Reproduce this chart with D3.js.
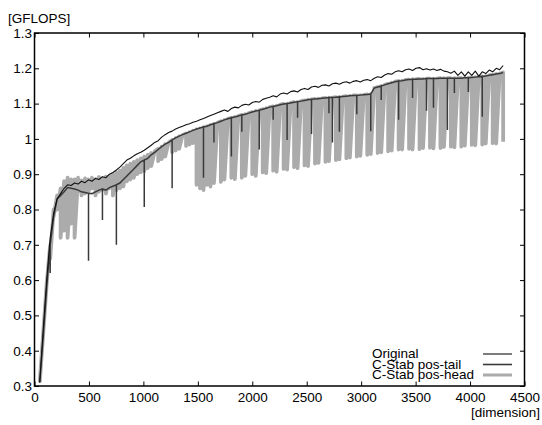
<!DOCTYPE html>
<html>
<head>
<meta charset="utf-8">
<script src="https://cdn.jsdelivr.net/npm/d3@7"></script>
<style>
body { margin: 0; background: #fff; }
text { font-family: "Liberation Sans", Arial, sans-serif; font-size: 13.5px; fill: #000; }
</style>
</head>
<body>
<svg id="chart" width="542" height="425"></svg>
<script>
// matrix dimension, one sample every 32
var dims = d3.range(48, 4305, 32);

var original = [
    0.31, 0.46, 0.60, 0.72, 0.79, 0.83, 0.845, 0.86, 0.87, 0.868,
    0.875, 0.872, 0.88, 0.876, 0.884, 0.88, 0.888, 0.885, 0.893, 0.89,
    0.90, 0.905, 0.912, 0.92, 0.93, 0.94, 0.945, 0.952, 0.958, 0.962,
    0.968, 0.975, 0.982, 0.99, 0.995, 1.005, 1.012, 1.018, 1.022, 1.028,
    1.032, 1.036, 1.04, 1.043, 1.047, 1.05, 1.054, 1.058, 1.062, 1.066,
    1.07, 1.074, 1.078, 1.082, 1.078, 1.086, 1.09, 1.088, 1.095, 1.098,
    1.096, 1.103, 1.106, 1.104, 1.112, 1.115, 1.118, 1.122, 1.119, 1.127,
    1.13, 1.127, 1.134, 1.136, 1.133, 1.14, 1.143, 1.14, 1.147, 1.149,
    1.146, 1.152, 1.153, 1.15, 1.156, 1.158, 1.155, 1.16, 1.162, 1.158,
    1.163, 1.165, 1.161, 1.166, 1.168, 1.165, 1.172, 1.176, 1.174, 1.181,
    1.185, 1.183, 1.19, 1.193, 1.19, 1.196, 1.198, 1.194, 1.2, 1.202,
    1.196, 1.199, 1.195, 1.198, 1.194, 1.197, 1.192, 1.19, 1.186, 1.192,
    1.18, 1.19, 1.178, 1.19, 1.18, 1.192, 1.178, 1.19, 1.185, 1.195,
    1.19, 1.2, 1.196, 1.208
];

var posTail = [
    0.31, 0.44, 0.58, 0.70, 0.78, 0.83, 0.84, 0.85, 0.862, 0.86,
    0.858, 0.855, 0.85, 0.848, 0.846, 0.845, 0.85, 0.855, 0.858, 0.855,
    0.862, 0.866, 0.87, 0.875, 0.885, 0.895, 0.905, 0.915, 0.925, 0.935,
    0.94, 0.945, 0.955, 0.962, 0.97, 0.978, 0.985, 0.99, 0.997, 1.003,
    1.008, 1.012, 1.016, 1.02, 1.024, 1.028, 1.031, 1.034, 1.036, 1.04,
    1.043, 1.046, 1.05, 1.054, 1.057, 1.06, 1.062, 1.065, 1.068, 1.07,
    1.073, 1.076, 1.079, 1.081, 1.084, 1.087, 1.09, 1.092, 1.094, 1.097,
    1.099, 1.1, 1.102, 1.104, 1.105, 1.107, 1.109, 1.111, 1.112, 1.113,
    1.114, 1.115, 1.116, 1.117, 1.117, 1.118, 1.119, 1.12, 1.121, 1.122,
    1.123, 1.123, 1.124, 1.125, 1.126, 1.127, 1.144, 1.147, 1.15, 1.153,
    1.156, 1.159, 1.162, 1.164, 1.165, 1.167, 1.168, 1.169, 1.169, 1.17,
    1.17, 1.171, 1.171, 1.171, 1.171, 1.172, 1.172, 1.172, 1.172, 1.172,
    1.172, 1.172, 1.173, 1.173, 1.174, 1.175, 1.176, 1.177, 1.178, 1.18,
    1.182, 1.184, 1.185, 1.188
];

// single-sample drops of pos-tail: [dimension, GFLOPS]
var tailDips = [
    [144, 0.62], [496, 0.655], [624, 0.77], [752, 0.70], [1008, 0.807], [1264, 0.86],
    [1552, 0.89], [1648, 0.99], [1808, 0.95], [1904, 1.02], [2064, 0.97], [2192, 1.054],
    [2320, 0.997], [2416, 1.06], [2544, 1.014], [2704, 1.073], [2736, 0.99], [2800, 1.02],
    [2960, 1.07], [3088, 1.022], [3184, 1.11], [3344, 1.054], [3472, 1.116], [3600, 1.08],
    [3664, 1.088], [3792, 1.025], [3856, 1.13], [3984, 1.133], [4112, 1.063]
];

// pos-head jumps between a high and a low value inside each sample
var posHeadHigh = [
    0.31, 0.45, 0.59, 0.70, 0.80, 0.84, 0.86, 0.88, 0.89, 0.885,
    0.885, 0.89, 0.882, 0.888, 0.885, 0.89, 0.886, 0.892, 0.888, 0.893,
    0.895, 0.9, 0.905, 0.91, 0.918, 0.925, 0.93, 0.935, 0.94, 0.945,
    0.95, 0.955, 0.96, 0.965, 0.972, 0.978, 0.985, 0.99, 0.997, 1.002,
    1.007, 1.011, 1.015, 1.019, 1.023, 1.027, 1.03, 1.033, 1.036, 1.04,
    1.043, 1.046, 1.05, 1.054, 1.057, 1.06, 1.062, 1.065, 1.068, 1.07,
    1.073, 1.076, 1.079, 1.081, 1.084, 1.087, 1.09, 1.092, 1.094, 1.097,
    1.099, 1.1, 1.102, 1.104, 1.105, 1.107, 1.109, 1.111, 1.112, 1.113,
    1.114, 1.115, 1.116, 1.117, 1.117, 1.118, 1.119, 1.12, 1.121, 1.122,
    1.123, 1.123, 1.124, 1.125, 1.126, 1.127, 1.144, 1.147, 1.15, 1.153,
    1.156, 1.159, 1.162, 1.164, 1.165, 1.167, 1.168, 1.169, 1.169, 1.17,
    1.17, 1.171, 1.171, 1.171, 1.171, 1.172, 1.172, 1.172, 1.172, 1.172,
    1.172, 1.172, 1.173, 1.173, 1.174, 1.175, 1.176, 1.177, 1.178, 1.18,
    1.182, 1.184, 1.185, 1.188
];

var posHeadLow = [
    0.31, 0.45, 0.59, 0.66, 0.78, 0.80, 0.72, 0.74, 0.72, 0.76,
    0.72, 0.85, 0.84, 0.845, 0.85, 0.86, 0.84, 0.85, 0.855, 0.845,
    0.86, 0.84, 0.855, 0.86, 0.865, 0.88, 0.885, 0.89, 0.90, 0.905,
    0.909, 0.917, 0.923, 0.929, 0.937, 0.943, 0.95, 0.955, 0.962, 0.967,
    0.972, 0.976, 0.98, 0.984, 0.988, 0.87, 0.86, 0.855, 0.87, 0.865,
    0.875, 0.88, 0.878, 0.885, 0.882, 0.89, 0.886, 0.892, 0.89, 0.895,
    0.898, 0.9, 0.895, 0.902, 0.905, 0.903, 0.908, 0.91, 0.907, 0.912,
    0.915, 0.913, 0.918, 0.92, 0.917, 0.922, 0.925, 0.923, 0.928, 0.93,
    0.932, 0.93, 0.935, 0.937, 0.935, 0.94, 0.942, 0.94, 0.945, 0.947,
    0.945, 0.95, 0.952, 0.95, 0.955, 0.957, 0.955, 0.96, 0.962, 0.96,
    0.965, 0.967, 0.965, 0.97, 0.97, 0.968, 0.972, 0.97, 0.973, 0.971,
    0.974, 0.972, 0.975, 0.973, 0.976, 0.974, 0.977, 0.975, 0.978, 0.976,
    0.979, 0.978, 0.981, 0.98, 0.983, 0.982, 0.985, 0.984, 0.987, 0.986,
    0.988, 0.987, 0.99, 0.992
];

// dimensions where pos-head does not drop (thin white gaps in the band)
var headGaps = [1104, 1232, 1360, 1680, 1776, 1872, 1968, 2064, 2160, 2256, 2352, 2448,
    2544, 2640, 2736, 2832, 2928, 3024, 3120, 3216, 3312, 3408, 3504, 3600, 3696, 3792,
    3888, 3984, 4080, 4176, 4272];

var xTicks = [0, 500, 1000, 1500, 2000, 2500, 3000, 3500, 4000, 4500];
var yTicks = [0.3, 0.4, 0.5, 0.6, 0.7, 0.8, 0.9, 1.0, 1.1, 1.2, 1.3];
var seriesNames = ["Original", "C-Stab pos-tail", "C-Stab pos-head"];

var svg = d3.select("#chart");
var plotL = 34.5, plotR = 524.5, plotT = 33, plotB = 386;

var x = d3.scaleLinear().domain([0, 4500]).range([plotL, plotR]);
var y = d3.scaleLinear().domain([0.3, 1.3]).range([plotB, plotT]);

var line = d3.line().x(function(p) { return x(p[0]); }).y(function(p) { return y(p[1]); });

// pos-head: visit high then low for each sample
var headPts = [];
dims.forEach(function(d, i) {
    headPts.push([d, posHeadHigh[i]]);
    var lo = headGaps.indexOf(d) >= 0 ? posHeadHigh[i] : posHeadLow[i];
    headPts.push([d, lo]);
});
// pos-tail: drop straight down and back at the dip samples
var dipAt = new Map(tailDips);
var tailPts = [];
dims.forEach(function(d, i) {
    tailPts.push([d, posTail[i]]);
    if (dipAt.has(d)) {
        tailPts.push([d, dipAt.get(d)]);
        tailPts.push([d, posTail[i]]);
    }
});
var origPts = dims.map(function(d, i) { return [d, original[i]]; });

var styles = [
    { color: "#111", width: 1.1, keyWidth: 1.1 },
    { color: "#3a3a3a", width: 1.5, keyWidth: 1.6 },
    { color: "#ababab", width: 3.8, keyWidth: 3 }
];

svg.append("path").attr("d", line(headPts)).attr("fill", "none")
    .attr("stroke", styles[2].color).attr("stroke-width", styles[2].width).attr("stroke-linejoin", "round");
svg.append("path").attr("d", line(tailPts)).attr("fill", "none")
    .attr("stroke", styles[1].color).attr("stroke-width", styles[1].width).attr("stroke-linejoin", "miter");
svg.append("path").attr("d", line(origPts)).attr("fill", "none")
    .attr("stroke", styles[0].color).attr("stroke-width", styles[0].width).attr("stroke-linejoin", "round");

// axes, ticks point inward, mirrored on top and right
var fmtY = function(v) { return String(+v.toFixed(1)); };
var fmtX = function(v) { return String(v); };
var gx = svg.append("g").attr("transform", "translate(0," + plotB + ")")
    .call(d3.axisBottom(x).tickValues(xTicks).tickSizeInner(-4.5).tickSizeOuter(0).tickPadding(6).tickFormat(fmtX));
var gxTop = svg.append("g").attr("transform", "translate(0," + plotT + ")")
    .call(d3.axisTop(x).tickValues(xTicks).tickSizeInner(-4.5).tickSizeOuter(0).tickFormat(""));
var gy = svg.append("g").attr("transform", "translate(" + plotL + ",0)")
    .call(d3.axisLeft(y).tickValues(yTicks).tickSizeInner(-4.5).tickSizeOuter(0).tickPadding(2.5).tickFormat(fmtY));
var gyR = svg.append("g").attr("transform", "translate(" + plotR + ",0)")
    .call(d3.axisRight(y).tickValues(yTicks).tickSizeInner(-4.5).tickSizeOuter(0).tickFormat(""));
[gx, gxTop, gy, gyR].forEach(function(g) {
    g.select(".domain").remove();
    g.selectAll(".tick line").attr("stroke", "#000").attr("stroke-width", 1);
    g.selectAll("text").attr("font-size", null).attr("font-family", null).attr("fill", "#000");
});

svg.append("rect").attr("x", plotL).attr("y", plotT).attr("width", plotR - plotL).attr("height", plotB - plotT)
    .attr("fill", "none").attr("stroke", "#000").attr("stroke-width", 1.5);

svg.append("text").attr("x", 8).attr("y", 22.5).text("[GFLOPS]");
svg.append("text").attr("x", 540).attr("y", 417).attr("text-anchor", "end").text("[dimension]");

// key
var key = svg.append("g");
seriesNames.forEach(function(name, i) {
    var by = 358 + i * 10.5;
    key.append("text").attr("x", 372).attr("y", by).text(name);
    key.append("line").attr("x1", 483).attr("x2", 512).attr("y1", by - 4).attr("y2", by - 4)
        .attr("stroke", styles[i].color).attr("stroke-width", styles[i].keyWidth);
});
</script>
</body>
</html>
